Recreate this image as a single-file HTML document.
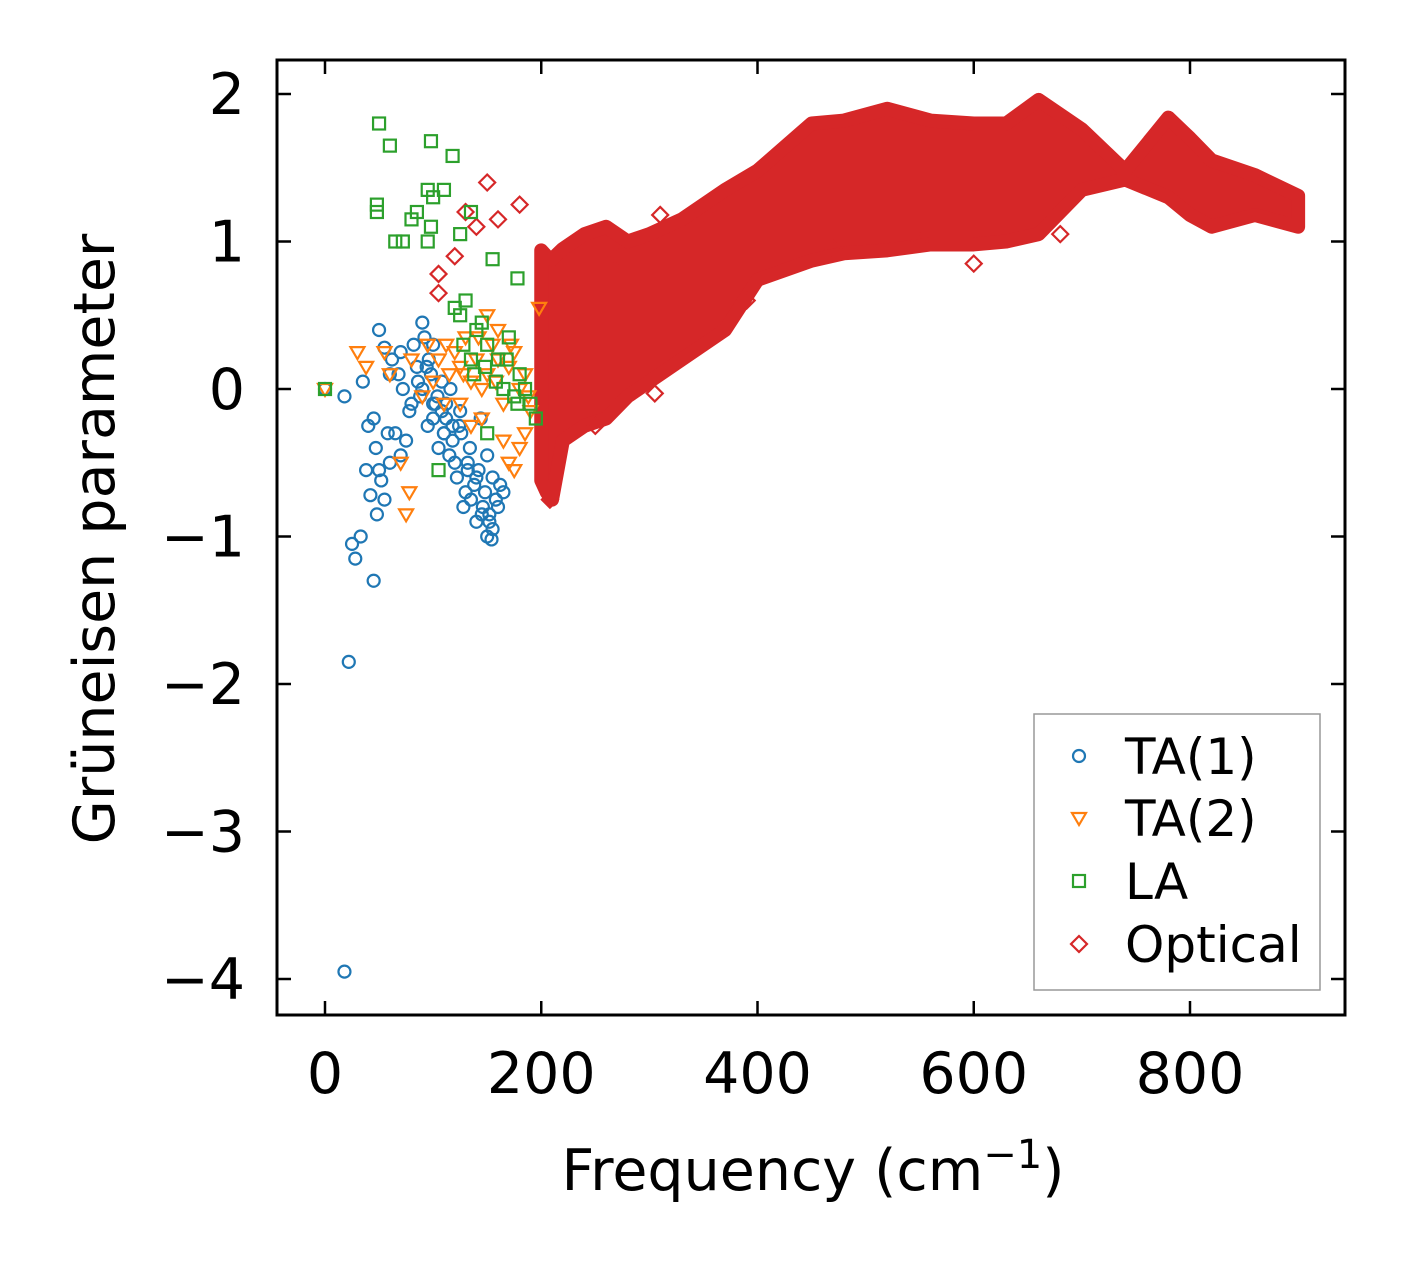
<!DOCTYPE html>
<html><head><meta charset="utf-8"><style>
html,body{margin:0;padding:0;background:#fff;}
svg{display:block;font-family:"DejaVu Sans","Liberation Sans",sans-serif;}
</style></head><body>
<svg id="chart" width="1406" height="1264" viewBox="0 0 1406 1264">
<g id="marks"></g>
<rect x="277" y="60" width="1068" height="955" fill="none" stroke="#000" stroke-width="3"/>
<g id="axes"></g>
<text x="813" y="1190" font-size="57" text-anchor="middle">Frequency (cm<tspan dy="-22" font-size="40">−1</tspan><tspan dy="22">)</tspan></text>
<text transform="translate(114,539) rotate(-90)" font-size="57" text-anchor="middle">Grüneisen parameter</text>
<g>
<rect x="1034" y="714" width="286" height="276" fill="#fff" stroke="#999" stroke-width="1.5"/>
<circle cx="1079" cy="756" r="6" fill="none" stroke="#1f77b4" stroke-width="2.2"/>
<text x="1125" y="774" font-size="50">TA(1)</text>
<path d="M1072,813 L1086,813 L1079,825 Z" fill="none" stroke="#ff7f0e" stroke-width="2.2"/>
<text x="1125" y="836" font-size="50">TA(2)</text>
<rect x="1073" y="875" width="12" height="12" fill="none" stroke="#2ca02c" stroke-width="2.2"/>
<text x="1125" y="899" font-size="50">LA</text>
<path d="M1079,936 L1087,944 L1079,952 L1071,944 Z" fill="none" stroke="#d62728" stroke-width="2.2"/>
<text x="1125" y="962" font-size="50">Optical</text>
</g>
</svg>
<script>
const xTicks=[0,200,400,600,800];
const yTicks=[2,1,0,-1,-2,-3,-4];
const yTickLabels=["2","1","0","−1","−2","−3","−4"];
const optFreq=[200,205,210,220,240,260,280,300,330,350,370,400,450,480,520,560,600,630,660,700,740,780,800,820,860,900];
const optTop=[0.94,0.9,0.88,0.95,1.05,1.1,1.0,1.05,1.15,1.25,1.35,1.48,1.8,1.82,1.9,1.82,1.8,1.8,1.96,1.76,1.48,1.84,1.7,1.55,1.45,1.31];
const optBottom=[-0.62,-0.7,-0.75,-0.35,-0.25,-0.2,-0.05,0.05,0.2,0.3,0.4,0.74,0.87,0.92,0.94,0.98,0.98,1.0,1.05,1.35,1.42,1.3,1.18,1.1,1.18,1.1];
const optOutX=[150,180,105,105,130,160,600,305,250,208,120,140,310,390,270,350,470,550,680];
const optOutY=[1.4,1.25,0.65,0.78,1.2,1.15,0.85,-0.03,-0.25,-0.75,0.9,1.1,1.18,0.6,0.9,1.2,0.95,1.0,1.05];
const ta1X=[0,18,22,25,28,33,45,18,35,40,50,55,48,50,90,60,70,80,100,120,130,140,150,155,160,165,110,100,90,75,65,60,45,38,42,55,62,68,72,78,85,88,95,98,102,105,108,112,115,118,122,125,128,132,135,138,142,145,148,152,155,158,162,58,52,47,70,82,92,96,104,110,116,124,134,144,150,154,112,118,126,132,140,146,152,86,94,100,108];
const ta1Y=[0,-3.95,-1.85,-1.05,-1.15,-1.0,-1.3,-0.05,0.05,-0.25,-0.55,-0.75,-0.85,0.4,0.45,-0.5,0.25,-0.1,0.3,-0.5,-0.7,-0.9,-1.0,-0.95,-0.8,-0.7,-0.3,-0.2,0.0,-0.35,-0.3,0.1,-0.2,-0.55,-0.72,0.28,0.2,0.1,0.0,-0.15,0.15,-0.05,-0.25,0.1,-0.1,-0.4,0.05,-0.2,-0.45,-0.35,-0.6,-0.15,-0.8,-0.5,-0.75,-0.65,-0.55,-0.85,-0.7,-0.9,-0.6,-0.75,-0.65,-0.3,-0.62,-0.4,-0.45,0.3,0.35,0.2,-0.05,-0.3,0.0,-0.25,-0.4,-0.2,-0.45,-1.02,-0.1,-0.25,-0.3,-0.55,-0.6,-0.8,-0.85,0.05,0.15,-0.1,-0.15];
const ta2X=[0,30,38,55,75,78,198,150,170,60,80,95,105,115,120,125,130,135,140,145,150,155,160,165,170,175,180,185,190,110,100,90,70,165,175,185,125,135,145,160,180,112,128,142,158,172,188];
const ta2Y=[0,0.25,0.15,0.25,-0.85,-0.7,0.55,0.5,-0.5,0.1,0.2,0.3,0.2,0.1,0.25,0.15,0.35,0.05,0.2,0.0,0.1,0.3,0.2,-0.1,0.15,0.25,0.0,0.1,-0.15,-0.1,0.05,-0.05,-0.5,-0.35,-0.55,-0.3,-0.1,-0.25,-0.2,0.4,-0.4,0.3,0.1,0.35,0.05,0.3,-0.05];
const laX=[0,50,60,98,118,48,48,65,72,80,85,95,100,110,98,95,125,135,155,178,105,120,125,130,140,145,150,160,170,180,185,190,195,135,165,175,150,128,138,148,158,168,178];
const laY=[0,1.8,1.65,1.68,1.58,1.25,1.2,1.0,1.0,1.15,1.2,1.35,1.3,1.35,1.1,1.0,1.05,1.2,0.88,0.75,-0.55,0.55,0.5,0.6,0.4,0.45,0.3,0.2,0.35,0.1,0.0,-0.1,-0.2,0.2,0.0,-0.05,-0.3,0.3,0.1,0.15,0.05,0.2,-0.1];
const sx=v=>325+v*1.08125;
const sy=v=>389-v*147.5;
const NS='http://www.w3.org/2000/svg';
const marks=document.getElementById('marks');
const axes=document.getElementById('axes');
function mk(tag,attrs,parent){const e=document.createElementNS(NS,tag);for(const k in attrs)e.setAttribute(k,attrs[k]);parent.appendChild(e);return e;}
let d='';
optFreq.forEach((f,i)=>{d+=(i?'L':'M')+sx(f)+','+sy(optTop[i]);});
for(let i=optFreq.length-1;i>=0;i--)d+='L'+sx(optFreq[i])+','+sy(optBottom[i]);
d+='Z';
const band=mk('path',{d:d,fill:'#d62728',stroke:'#d62728','stroke-width':14,'stroke-linejoin':'round'},marks);


function diamond(x,y,c,name){const p=mk('path',{d:`M${x},${y-8}L${x+8},${y}L${x},${y+8}L${x-8},${y}Z`,fill:'none',stroke:c,'stroke-width':2.2},marks);

}
optOutX.forEach((f,i)=>diamond(sx(f),sy(optOutY[i]),'#d62728','optical-point'));
ta1X.forEach((f,i)=>{const c=mk('circle',{cx:sx(f),cy:sy(ta1Y[i]),r:6,fill:'none',stroke:'#1f77b4','stroke-width':2.2},marks);

});
ta2X.forEach((f,i)=>{const x=sx(f),y=sy(ta2Y[i]);const p=mk('path',{d:`M${x-7},${y-5}L${x+7},${y-5}L${x},${y+7}Z`,fill:'none',stroke:'#ff7f0e','stroke-width':2.2},marks);

});
laX.forEach((f,i)=>{const x=sx(f),y=sy(laY[i]);const r=mk('rect',{x:x-6,y:y-6,width:12,height:12,fill:'none',stroke:'#2ca02c','stroke-width':2.2},marks);

});
xTicks.forEach(v=>{const x=sx(v);
mk('line',{x1:x,y1:1015,x2:x,y2:1001,stroke:'#000','stroke-width':2.5},axes);
mk('line',{x1:x,y1:60,x2:x,y2:74,stroke:'#000','stroke-width':2.5},axes);
const t=mk('text',{x:x,y:1093,'font-size':57,'text-anchor':'middle'},axes);t.textContent=v;

});
yTicks.forEach((v,i)=>{const y=sy(v);
mk('line',{x1:277,y1:y,x2:291,y2:y,stroke:'#000','stroke-width':2.5},axes);
mk('line',{x1:1345,y1:y,x2:1331,y2:y,stroke:'#000','stroke-width':2.5},axes);
const t=mk('text',{x:245,y:y+20,'font-size':57,'text-anchor':'end'},axes);t.textContent=yTickLabels[i];

});
</script>
</body></html>
